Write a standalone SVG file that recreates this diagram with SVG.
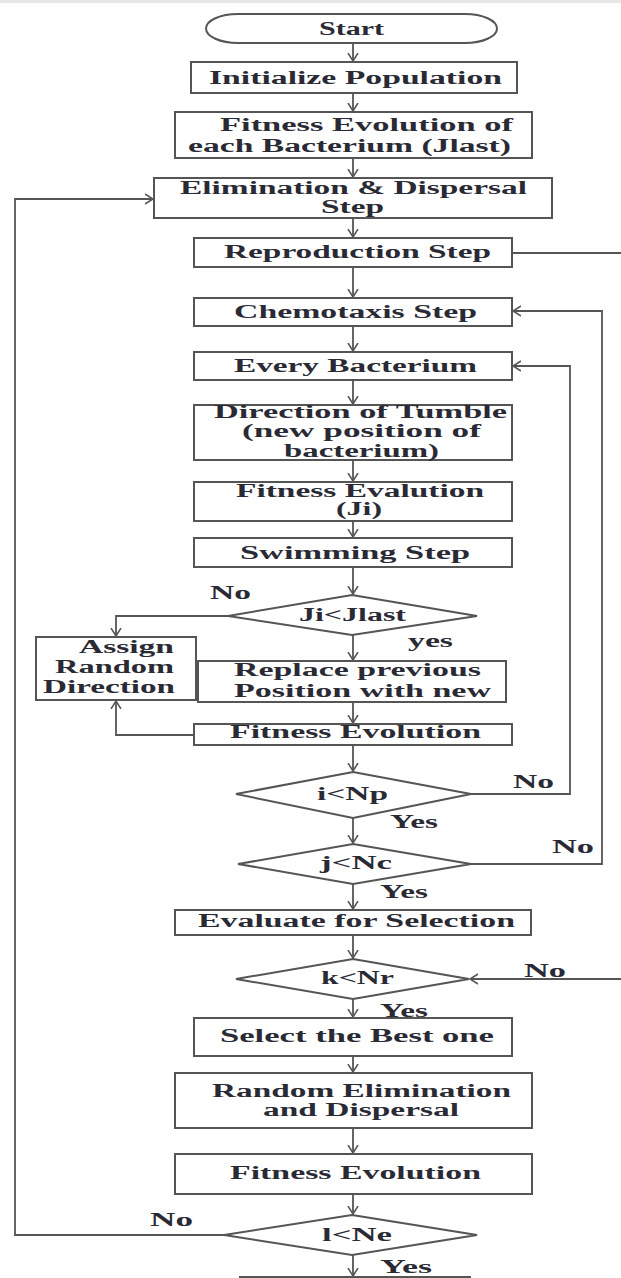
<svg xmlns="http://www.w3.org/2000/svg" width="621" height="1278" viewBox="0 0 621 1278">
<style>
.b{fill:#fff;stroke:#555;stroke-width:2}
.t{font-family:"Liberation Serif","Times New Roman",serif;font-weight:bold;font-size:18px;fill:#2a2a35}
.c{fill:none;stroke:#555;stroke-width:1.8}
</style>
<defs>
<marker id="a" markerWidth="10" markerHeight="12" refX="8" refY="6" orient="auto" markerUnits="userSpaceOnUse">
<path d="M0,1 L8,6 L0,11" fill="none" stroke="#555" stroke-width="1.5"/>
</marker>
</defs>
<rect x="0" y="0" width="621" height="1278" fill="#fff"/>
<rect x="0" y="0" width="621" height="3" fill="#e6e6e6"/>
<g id="connectors">
<path class="c" d="M353,43 V61" marker-end="url(#a)"/>
<path class="c" d="M353,93 V111" marker-end="url(#a)"/>
<path class="c" d="M353,158 V177" marker-end="url(#a)"/>
<path class="c" d="M353,218 V237" marker-end="url(#a)"/>
<path class="c" d="M353,267 V297" marker-end="url(#a)"/>
<path class="c" d="M353,326 V351" marker-end="url(#a)"/>
<path class="c" d="M353,380 V404" marker-end="url(#a)"/>
<path class="c" d="M353,460 V481" marker-end="url(#a)"/>
<path class="c" d="M353,521 V537" marker-end="url(#a)"/>
<path class="c" d="M353,567 V594" marker-end="url(#a)"/>
<path class="c" d="M353,635 V660" marker-end="url(#a)"/>
<path class="c" d="M353,702 V723" marker-end="url(#a)"/>
<path class="c" d="M353,745 V771" marker-end="url(#a)"/>
<path class="c" d="M353,818 V843" marker-end="url(#a)"/>
<path class="c" d="M353,884 V909" marker-end="url(#a)"/>
<path class="c" d="M353,935 V958" marker-end="url(#a)"/>
<path class="c" d="M353,999 V1017" marker-end="url(#a)"/>
<path class="c" d="M353,1056 V1072" marker-end="url(#a)"/>
<path class="c" d="M353,1128 V1153" marker-end="url(#a)"/>
<path class="c" d="M353,1194 V1214" marker-end="url(#a)"/>
<path class="c" d="M353,1255 V1276" marker-end="url(#a)"/>
<path class="c" d="M228,616 H116 V636" marker-end="url(#a)"/>
<path class="c" d="M194,735 H116 V701" marker-end="url(#a)"/>
<path class="c" d="M471,794 H570 V366 H513" marker-end="url(#a)"/>
<path class="c" d="M471,864 H602 V311 H513" marker-end="url(#a)"/>
<path class="c" d="M512,253 H621"/>
<path class="c" d="M621,979 H470" marker-end="url(#a)"/>
<path class="c" d="M224,1235 H15 V199 H153" marker-end="url(#a)"/>
</g>
<g id="start">
<rect class="b" x="206" y="14" width="291" height="29" rx="32" ry="14.5"/>
<text class="t" x="319" y="35" textLength="65" lengthAdjust="spacingAndGlyphs">Start</text>
</g>
<g id="init">
<rect class="b" x="191" y="62" width="326" height="31"/>
<text class="t" x="209" y="83.5" textLength="293" lengthAdjust="spacingAndGlyphs">Initialize Population</text>
</g>
<g id="fitness1">
<rect class="b" x="175" y="112" width="357" height="46"/>
<text class="t" x="220" y="131" textLength="293" lengthAdjust="spacingAndGlyphs">Fitness Evolution of</text>
<text class="t" x="188" y="151.5" textLength="323" lengthAdjust="spacingAndGlyphs">each Bacterium (Jlast)</text>
</g>
<g id="elim">
<rect class="b" x="154" y="178" width="398" height="40"/>
<text class="t" x="180" y="194" textLength="347" lengthAdjust="spacingAndGlyphs">Elimination &amp; Dispersal</text>
<text class="t" x="321" y="213" textLength="63" lengthAdjust="spacingAndGlyphs">Step</text>
</g>
<g id="repro">
<rect class="b" x="194" y="238" width="318" height="29"/>
<text class="t" x="224" y="258" textLength="267" lengthAdjust="spacingAndGlyphs">Reproduction Step</text>
</g>
<g id="chemo">
<rect class="b" x="194" y="298" width="318" height="28"/>
<text class="t" x="234" y="318" textLength="243" lengthAdjust="spacingAndGlyphs">Chemotaxis Step</text>
</g>
<g id="every">
<rect class="b" x="194" y="352" width="318" height="28"/>
<text class="t" x="234" y="372" textLength="243" lengthAdjust="spacingAndGlyphs">Every Bacterium</text>
</g>
<g id="tumble">
<rect class="b" x="194" y="405" width="318" height="55"/>
<text class="t" x="214" y="418" textLength="293" lengthAdjust="spacingAndGlyphs">Direction of Tumble</text>
<text class="t" x="242" y="437" textLength="239" lengthAdjust="spacingAndGlyphs">(new position of</text>
<text class="t" x="284" y="457" textLength="155" lengthAdjust="spacingAndGlyphs">bacterium)</text>
</g>
<g id="evalji">
<rect class="b" x="194" y="482" width="318" height="39"/>
<text class="t" x="236" y="497" textLength="248" lengthAdjust="spacingAndGlyphs">Fitness Evalution</text>
<text class="t" x="336" y="515" textLength="46" lengthAdjust="spacingAndGlyphs">(Ji)</text>
</g>
<g id="swim">
<rect class="b" x="194" y="538" width="318" height="29"/>
<text class="t" x="240" y="559" textLength="230" lengthAdjust="spacingAndGlyphs">Swimming Step</text>
</g>
<g id="d1">
<polygon class="b" points="352,595 477,616 352,635 228,616"/>
<text class="t" x="299" y="621" textLength="107" lengthAdjust="spacingAndGlyphs">Ji&lt;Jlast</text>
<text class="t" x="210" y="599" textLength="41" lengthAdjust="spacingAndGlyphs">No</text>
<text class="t" x="408" y="647" textLength="45" lengthAdjust="spacingAndGlyphs">yes</text>
</g>
<g id="assign">
<rect class="b" x="36" y="637" width="160" height="63"/>
<text class="t" x="79" y="653" textLength="95" lengthAdjust="spacingAndGlyphs">Assign</text>
<text class="t" x="55" y="673" textLength="119" lengthAdjust="spacingAndGlyphs">Random</text>
<text class="t" x="43" y="693" textLength="132" lengthAdjust="spacingAndGlyphs">Direction</text>
</g>
<g id="replace">
<rect class="b" x="198" y="661" width="308" height="41"/>
<text class="t" x="234" y="676" textLength="247" lengthAdjust="spacingAndGlyphs">Replace previous</text>
<text class="t" x="234" y="697" textLength="257" lengthAdjust="spacingAndGlyphs">Position with new</text>
</g>
<g id="fitness2">
<rect class="b" x="194" y="724" width="318" height="21"/>
<text class="t" x="230" y="738" textLength="251" lengthAdjust="spacingAndGlyphs">Fitness Evolution</text>
</g>
<g id="d2">
<polygon class="b" points="353,772 471,794 353,818 236,794"/>
<text class="t" x="317" y="800" textLength="71" lengthAdjust="spacingAndGlyphs">i&lt;Np</text>
<text class="t" x="513" y="788" textLength="41" lengthAdjust="spacingAndGlyphs">No</text>
<text class="t" x="390" y="828" textLength="48" lengthAdjust="spacingAndGlyphs">Yes</text>
</g>
<g id="d3">
<polygon class="b" points="353,844 471,864 353,884 238,864"/>
<text class="t" x="320" y="869" textLength="72" lengthAdjust="spacingAndGlyphs">j&lt;Nc</text>
<text class="t" x="552" y="853" textLength="42" lengthAdjust="spacingAndGlyphs">No</text>
<text class="t" x="380" y="898" textLength="48" lengthAdjust="spacingAndGlyphs">Yes</text>
</g>
<g id="evalsel">
<rect class="b" x="175" y="910" width="356" height="25"/>
<text class="t" x="198" y="927" textLength="317" lengthAdjust="spacingAndGlyphs">Evaluate for Selection</text>
</g>
<g id="d4">
<polygon class="b" points="353,959 469,979 353,999 236,979"/>
<text class="t" x="321" y="984" textLength="73" lengthAdjust="spacingAndGlyphs">k&lt;Nr</text>
<text class="t" x="524" y="977" textLength="42" lengthAdjust="spacingAndGlyphs">No</text>
<text class="t" x="380" y="1017" textLength="48" lengthAdjust="spacingAndGlyphs">Yes</text>
</g>
<g id="best">
<rect class="b" x="194" y="1018" width="318" height="38"/>
<text class="t" x="220" y="1042" textLength="274" lengthAdjust="spacingAndGlyphs">Select the Best one</text>
</g>
<g id="randelim">
<rect class="b" x="175" y="1073" width="357" height="55"/>
<text class="t" x="212" y="1097" textLength="299" lengthAdjust="spacingAndGlyphs">Random Elimination</text>
<text class="t" x="263" y="1116" textLength="196" lengthAdjust="spacingAndGlyphs">and Dispersal</text>
</g>
<g id="fitness3">
<rect class="b" x="175" y="1154" width="357" height="40"/>
<text class="t" x="230" y="1179" textLength="251" lengthAdjust="spacingAndGlyphs">Fitness Evolution</text>
</g>
<g id="d5">
<polygon class="b" points="352,1215 477,1235 352,1255 224,1235"/>
<text class="t" x="322" y="1241" textLength="70" lengthAdjust="spacingAndGlyphs">l&lt;Ne</text>
<text class="t" x="150" y="1226" textLength="43" lengthAdjust="spacingAndGlyphs">No</text>
<text class="t" x="380" y="1273" textLength="52" lengthAdjust="spacingAndGlyphs">Yes</text>
</g>
<g id="end">
<rect class="b" x="240" y="1277" width="230" height="10"/>
</g>
</svg>
